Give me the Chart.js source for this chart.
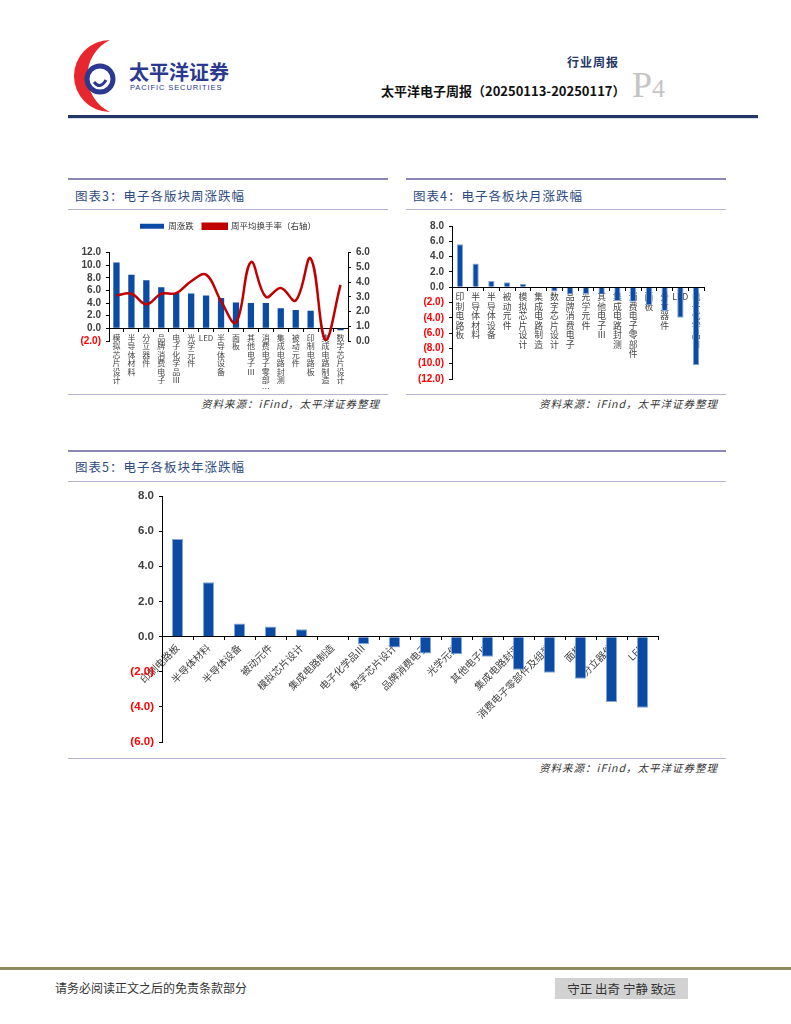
<!DOCTYPE html>
<html>
<head>
<meta charset="utf-8">
<script src="https://cdn.jsdelivr.net/npm/chart.js@4.4.1/dist/chart.umd.min.js"></script>
<style>
  body { margin: 0; width: 791px; height: 1024px; position: relative; background: #fff; font-family: "Noto Sans CJK SC", sans-serif; overflow: hidden; }
  .abs { position: absolute; }
  .rule { position: absolute; height: 0; }
  .title { position: absolute; font-size: 12.5px; color: #2e4a7e; letter-spacing: 1px; line-height: 16px; }
  .src { position: absolute; font-size: 10.5px; font-style: italic; color: #333; letter-spacing: 1px; text-align: right; }
  canvas { position: absolute; }
</style>
</head>
<body>
<!-- header -->
<svg class="abs" style="left:72px;top:38px" width="60" height="76" viewBox="0 0 60 76">
  <path d="M38 2 A36 36 0 0 0 38 74 A40 40 0 0 1 38 2 Z" fill="#e8262d"/>
  <circle cx="28" cy="41" r="13" fill="none" stroke="#2b3990" stroke-width="5"/>
  <path d="M22 44 q6 8 12 -2" fill="none" stroke="#2b3990" stroke-width="3"/>
</svg>
<div class="abs" style="left:129px;top:57px;font-size:20px;font-weight:bold;color:#2b3990;letter-spacing:0px">太平洋证券</div>
<div class="abs" style="left:130px;top:83px;font-size:7.5px;color:#2b3990;font-family:'Liberation Sans';letter-spacing:0.9px">PACIFIC SECURITIES</div>
<div class="abs" style="left:567px;top:53px;font-size:12px;font-weight:bold;color:#1f3864;letter-spacing:1px">行业周报</div>
<div class="abs" style="left:381px;top:81px;font-size:13px;font-weight:bold;color:#111">太平洋电子周报（20250113-20250117）</div>
<div class="abs" style="left:632px;top:64px;font-size:36px;color:#c4c4c4;font-family:'Liberation Serif'">P<span style="font-size:26px">4</span></div>
<div class="rule" style="left:68px;top:115px;width:690px;border-top:3px solid #1f3864"></div>
<div class="rule" style="left:68px;top:118px;width:690px;border-top:1px solid #d8dce8"></div>

<!-- chart 3 panel -->
<div class="rule" style="left:68px;top:178px;width:320px;border-top:2px solid #8a88b2"></div>
<div class="title" style="left:75px;top:188px">图表3：电子各版块周涨跌幅</div>
<div class="rule" style="left:68px;top:209px;width:320px;border-top:1px solid #b4b2d4"></div>
<div class="rule" style="left:68px;top:394px;width:320px;border-top:1px solid #b4b2d4"></div>
<div class="src" style="left:68px;width:312px;top:396px">资料来源：iFind，太平洋证券整理</div>

<!-- chart 4 panel -->
<div class="rule" style="left:406px;top:178px;width:320px;border-top:2px solid #8a88b2"></div>
<div class="title" style="left:413px;top:188px">图表4：电子各板块月涨跌幅</div>
<div class="rule" style="left:406px;top:209px;width:320px;border-top:1px solid #b4b2d4"></div>
<div class="rule" style="left:406px;top:394px;width:320px;border-top:1px solid #b4b2d4"></div>
<div class="src" style="left:406px;width:312px;top:396px">资料来源：iFind，太平洋证券整理</div>

<!-- chart 5 panel -->
<div class="rule" style="left:68px;top:450px;width:658px;border-top:2px solid #8a88b2"></div>
<div class="title" style="left:75px;top:459px">图表5：电子各板块年涨跌幅</div>
<div class="rule" style="left:68px;top:481px;width:658px;border-top:1px solid #b4b2d4"></div>
<div class="rule" style="left:68px;top:758px;width:658px;border-top:1px solid #b4b2d4"></div>
<div class="src" style="left:68px;width:650px;top:760px">资料来源：iFind，太平洋证券整理</div>

<!-- footer -->
<div class="rule" style="left:0;top:967px;width:791px;border-top:3px solid #8b8a5c"></div>
<div class="abs" style="left:55px;top:979px;font-size:12px;color:#333">请务必阅读正文之后的免责条款部分</div>
<div class="abs" style="left:555px;top:978px;width:133px;height:21px;background:#d2d2d2;font-size:12.5px;color:#333;line-height:21px;text-align:center">守正 出奇 宁静 致远</div>

<canvas id="c3" style="left:68px;top:213px" width="320" height="179"></canvas>
<canvas id="c4" style="left:406px;top:212px" width="320" height="180"></canvas>
<canvas id="c5" style="left:68px;top:482px" width="657" height="272"></canvas>

<script>
// 图表3 周涨跌幅
const weekCats = ['模拟芯片设计', '半导体材料', '分立器件', '品牌消费电子', '电子化学品Ⅲ', '光学元件', 'LED', '半导体设备',
  '面板', '其他电子Ⅲ', '消费电子零部…', '集成电路封测', '被动元件', '印制电路板', '集成电路制造', '数字芯片设计'];
const weekChange = [10.4, 8.5, 7.6, 6.5, 5.6, 5.5, 5.2, 4.8, 4.1, 4.0, 4.0, 3.2, 2.9, 2.8, 0.0, -0.3];
const weekTurnover = [3.1, 3.2, 2.5, 3.2, 3.25, 4.05, 4.5, 2.7, 1.25, 5.35, 3.0, 3.6, 2.75, 5.6, 0.05, 3.8];

// 图表4 月涨跌幅
const monthCats = ['印制电路板', '半导体材料', '半导体设备', '被动元件', '模拟芯片设计', '集成电路制造', '数字芯片设计', '品牌消费电子',
  '光学元件', '其他电子Ⅲ', '集成电路封测', '消费电子零部件', '面板', '分立器件', 'LED', '电子化学品Ⅲ'];
const monthChange = [5.6, 3.1, 0.8, 0.65, 0.45, 0.0, -0.55, -0.95, -0.9, -0.95, -1.8, -1.9, -2.35, -3.1, -4.0, -10.2];

// 图表5 年涨跌幅
const yearCats = ['印制电路板', '半导体材料', '半导体设备', '被动元件', '模拟芯片设计', '集成电路制造', '电子化学品Ⅲ', '数字芯片设计',
  '品牌消费电子', '光学元件', '其他电子Ⅲ', '集成电路封测', '消费电子零部件及组装', '面板', '分立器件', 'LED'];
const yearChange = [5.55, 3.1, 0.75, 0.58, 0.42, 0.0, -0.43, -0.62, -0.96, -1.0, -1.15, -1.89, -2.05, -2.4, -3.72, -4.05];

const BLUE = '#0b4ba3';
const BLUE_EDGE = '#86a6d8';
const RED_LINE = '#c00000';

function fmt(v) {
  return v < 0 ? '(' + Math.abs(v).toFixed(1) + ')' : v.toFixed(1);
}
function tickColor(ctx) {
  return ctx.tick && ctx.tick.value < 0 ? '#ff0000' : '#404040';
}
function stack(s) {
  return s === 'LED' ? s : s.split('');
}
function yAxis(min, max, step, width, size, pos) {
  return {
    position: pos || 'left',
    min: min, max: max,
    afterFit: s => { s.width = width; },
    border: { color: '#000', width: 1 },
    grid: { drawOnChartArea: false, drawTicks: true, tickLength: 3, color: '#000' },
    ticks: { stepSize: step, autoSkip: false, padding: 5, color: tickColor, callback: v => fmt(v),
      font: { family: 'Liberation Sans', size: size, weight: 'bold' } }
  };
}
function xAxis(size, rot, lh) {
  return {
    position: { y: 0 },
    z: 1,
    afterFit: s => { s.height = 0; },
    border: { color: '#000', width: 1 },
    grid: { offset: true, drawOnChartArea: false, drawTicks: true, tickLength: 3, color: '#000' },
    ticks: { autoSkip: false, minRotation: rot, maxRotation: rot, padding: 2, color: '#444',
      font: { family: 'Noto Sans CJK SC', size: size, lineHeight: lh } }
  };
}

// a bit more room under the legend of 图表3
const legendGap = {
  id: 'legendGap',
  beforeUpdate(chart) {
    const lg = chart.legend;
    if (lg && !lg._gapWrapped) {
      const fit = lg.fit;
      lg.fit = function () { fit.call(this); this.height += 12; };
      lg._gapWrapped = true;
    }
  }
};

Chart.defaults.animation = false;
Chart.defaults.responsive = false;

new Chart(document.getElementById('c3'), {
  data: {
    labels: weekCats.map(stack),
    datasets: [{
      type: 'bar',
      label: '周涨跌',
      data: weekChange,
      backgroundColor: BLUE,
      borderColor: BLUE_EDGE,
      borderWidth: 0,
      barPercentage: 0.42,
      categoryPercentage: 1,
      yAxisID: 'y',
      order: 1
    }, {
      type: 'line',
      label: '周平均换手率（右轴）',
      data: weekTurnover,
      borderColor: RED_LINE,
      backgroundColor: RED_LINE,
      borderWidth: 2.5,
      pointRadius: 0,
      tension: 0.4,
      yAxisID: 'y1',
      order: 0
    }]
  },
  options: {
    layout: { padding: { top: 0, bottom: 51, left: 0, right: 0 } },
    plugins: {
      tooltip: { enabled: false },
      legend: {
        position: 'top',
        labels: { boxWidth: 24, boxHeight: 5, padding: 9, color: '#333',
          sort: (a, b) => a.datasetIndex - b.datasetIndex,
          font: { family: 'Noto Sans CJK SC', size: 8.5 } }
      }
    },
    scales: {
      x: xAxis(8, 0, 1.07),
      y: yAxis(-2, 12, 2, 41, 10),
      y1: yAxis(0, 6, 1, 40, 10, 'right')
    }
  },
  plugins: [legendGap]
});

new Chart(document.getElementById('c4'), {
  type: 'bar',
  data: {
    labels: monthCats.map(stack),
    datasets: [{
      label: '月涨跌幅',
      data: monthChange,
      backgroundColor: BLUE,
      borderColor: BLUE_EDGE,
      borderWidth: 1,
      barPercentage: 0.4,
      categoryPercentage: 1
    }]
  },
  options: {
    layout: { padding: { top: 14, bottom: 13, left: 0, right: 22 } },
    plugins: { legend: { display: false }, tooltip: { enabled: false } },
    scales: {
      x: xAxis(8.8, 0, 1.08),
      y: yAxis(-12, 8, 2, 46, 10)
    }
  }
});

new Chart(document.getElementById('c5'), {
  type: 'bar',
  data: {
    labels: yearCats,
    datasets: [{
      label: '年涨跌幅',
      data: yearChange,
      backgroundColor: BLUE,
      borderColor: BLUE_EDGE,
      borderWidth: 1,
      barPercentage: 0.36,
      categoryPercentage: 1
    }]
  },
  options: {
    layout: { padding: { top: 14, bottom: 11, left: 0, right: 67 } },
    plugins: { legend: { display: false }, tooltip: { enabled: false } },
    scales: {
      x: xAxis(10, 45, 1.2),
      y: yAxis(-6, 8, 2, 94, 11.5)
    }
  }
});
</script>
</body>
</html>
